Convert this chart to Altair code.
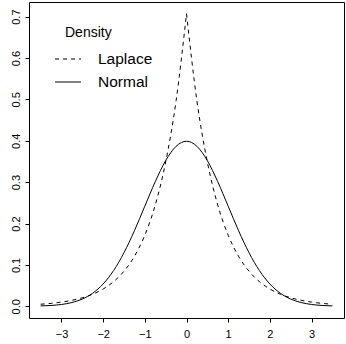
import altair as alt
import pandas as pd

# Values (x grid, Normal density, Laplace density)
x_vals = [-3.5, -3.25, -3.0, -2.75, -2.5, -2.25, -2.0, -1.75, -1.5, -1.25, -1.0, -0.75, -0.5, -0.25,
          0.0, 0.25, 0.5, 0.75, 1.0, 1.25, 1.5, 1.75, 2.0, 2.25, 2.5, 2.75, 3.0, 3.25, 3.5]
normal_vals = [0.0009, 0.0020, 0.0044, 0.0091, 0.0175, 0.0317, 0.0540, 0.0863, 0.1295, 0.1826, 0.2420,
               0.3011, 0.3521, 0.3867, 0.3989, 0.3867, 0.3521, 0.3011, 0.2420, 0.1826, 0.1295, 0.0863,
               0.0540, 0.0317, 0.0175, 0.0091, 0.0044, 0.0020, 0.0009]
laplace_vals = [0.0050, 0.0071, 0.0102, 0.0145, 0.0206, 0.0293, 0.0418, 0.0595, 0.0848, 0.1207, 0.1719,
                0.2448, 0.3487, 0.4965, 0.7071, 0.4965, 0.3487, 0.2448, 0.1719, 0.1207, 0.0848, 0.0595,
                0.0418, 0.0293, 0.0206, 0.0145, 0.0102, 0.0071, 0.0050]
x_ticks = [-3, -2, -1, 0, 1, 2, 3]
y_ticks = [0.0, 0.1, 0.2, 0.3, 0.4, 0.5, 0.6, 0.7]
legend_title = "Density"
legend_labels = ["Laplace", "Normal"]

FONT = "Liberation Sans"

normal_df = pd.DataFrame({"x": x_vals, "y": normal_vals})
rows = []
for xv, yv in zip(x_vals, laplace_vals):
    if xv <= 0:
        rows.append({"x": xv, "y": yv, "side": "L"})
    if xv >= 0:
        rows.append({"x": xv, "y": yv, "side": "R"})
laplace_df = pd.DataFrame(rows)

xs = alt.Scale(domain=[-3.78, 3.78], nice=False, zero=False)
ys = alt.Scale(domain=[-0.0283, 0.7354], nice=False, zero=False)

xax = alt.Axis(values=x_ticks, grid=False, domain=False, tickColor="black", tickSize=4,
               labelFontSize=11, labelFont=FONT, labelColor="black", labelPadding=6, title=None,
               format="d")
yax = alt.Axis(values=y_ticks, grid=False, domain=False, tickColor="black", tickSize=4,
               labelFontSize=11, labelFont=FONT, labelColor="black", labelPadding=4, title=None,
               format=".1f", labelAngle=270, labelAlign="center", labelBaseline="bottom")

normal_line = alt.Chart(normal_df).mark_line(color="black", strokeWidth=1, interpolate="monotone").encode(
    x=alt.X("x:Q", scale=xs, axis=xax),
    y=alt.Y("y:Q", scale=ys, axis=yax),
)
laplace_line = alt.Chart(laplace_df).mark_line(color="black", strokeWidth=1, strokeDash=[4, 4],
                                               interpolate="monotone").encode(
    x=alt.X("x:Q", scale=xs, axis=xax),
    y=alt.Y("y:Q", scale=ys, axis=yax),
    detail="side:N",
)

one = pd.DataFrame({"t": [legend_title]})
title_txt = alt.Chart(one).mark_text(align="left", baseline="middle", fontSize=14, font=FONT,
                                     color="black").encode(
    x=alt.value(36), y=alt.value(31), text="t:N")
lap_rule = alt.Chart(one).mark_rule(color="black", strokeWidth=1, strokeDash=[4, 4]).encode(
    x=alt.value(26), x2=alt.value(52), y=alt.value(57))
nor_rule = alt.Chart(one).mark_rule(color="black", strokeWidth=1).encode(
    x=alt.value(26), x2=alt.value(52), y=alt.value(80))
lap_txt = alt.Chart(pd.DataFrame({"t": [legend_labels[0]]})).mark_text(
    align="left", baseline="middle", fontSize=15.5, font=FONT, color="black").encode(
    x=alt.value(69), y=alt.value(57), text="t:N")
nor_txt = alt.Chart(pd.DataFrame({"t": [legend_labels[1]]})).mark_text(
    align="left", baseline="middle", fontSize=15.5, font=FONT, color="black").encode(
    x=alt.value(69), y=alt.value(80), text="t:N")

chart = alt.layer(laplace_line, normal_line, title_txt, lap_rule, nor_rule, lap_txt, nor_txt).properties(
    width=315, height=316,
    autosize=alt.AutoSizeParams(type="none"),
    padding={"left": 29, "top": 2, "right": 2, "bottom": 26},
    background="white",
).configure_view(stroke="black", strokeWidth=1)

chart.save("out.html", embed_options={"renderer": "svg", "actions": False})
